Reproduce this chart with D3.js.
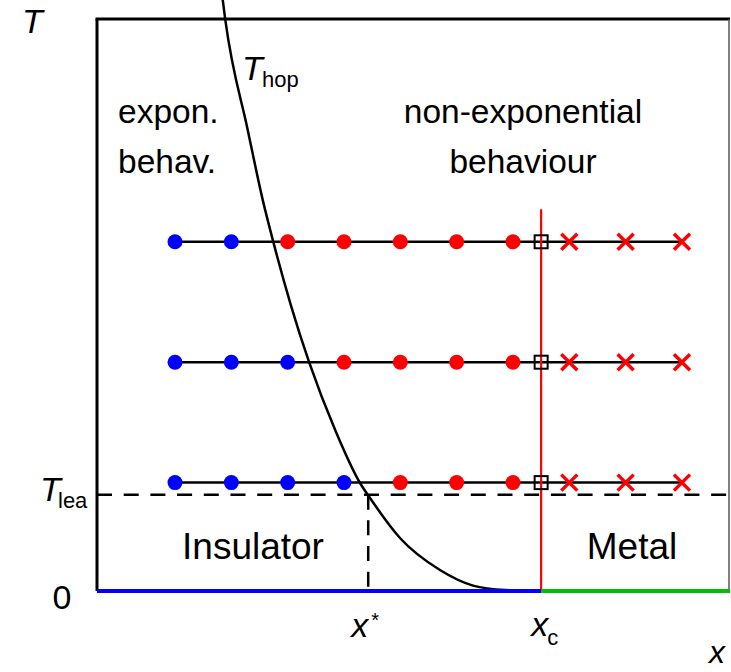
<!DOCTYPE html>
<html><head><meta charset="utf-8">
<script src="https://cdn.jsdelivr.net/npm/d3@7"></script>
<style>body{margin:0;background:#fff}svg{display:block}text{font-family:"Liberation Sans",Arial,sans-serif;fill:#000}</style>
</head><body>
<script>
// ---- data ----
const rowT = [2.9, 1.9, 0.9];
const dotX = [1, 2, 3, 4, 5, 6, 7];
const dotColors = [
  ["blue","blue","red","red","red","red","red"],
  ["blue","blue","blue","red","red","red","red"],
  ["blue","blue","blue","blue","red","red","red"]
];
const crossX = [8, 9, 10];
const xc = 7.5;
const xStar = 4.43;
const Tlea = 0.8;
const xcLineTop = 3.17;
const hopX = [1.847, 1.893, 2.291, 2.557, 2.745, 3.059, 3.379, 3.858, 4.284, 4.426, 4.994, 5.704, 6.29, 6.858, 7.5];
const hopT = [4.909, 4.743, 3.829, 3.248, 2.899, 2.37, 1.902, 1.32, 0.897, 0.797, 0.44, 0.174, 0.045, 0.008, 0];
const yTickLabels = ["0", "T", "lea"];

const W = 731, H = 672;
const svg = d3.select("body").append("svg").attr("width", W).attr("height", H);
const x = d3.scaleLinear().domain([-0.385, 10.853]).range([97, 730]);
const y = d3.scaleLinear().domain([0, 4.75]).range([591, 19]);
const [x0, x1] = x.range();
const colorMap = {blue: "#0000ff", red: "#ff0000"};

// dashed T_lea line
svg.append("line").attr("x1", x0).attr("x2", x1).attr("y1", y(Tlea)).attr("y2", y(Tlea))
  .attr("stroke", "#000").attr("stroke-width", 2.5).attr("stroke-dasharray", "15,11.7");
// dashed x* line
svg.append("line").attr("x1", x(xStar)).attr("x2", x(xStar)).attr("y1", y(Tlea)).attr("y2", y(0))
  .attr("stroke", "#000").attr("stroke-width", 2.5).attr("stroke-dasharray", "15,10.7");

// row lines
rowT.forEach(t => {
  svg.append("line").attr("x1", x(dotX[0])).attr("x2", x(crossX[crossX.length-1]))
    .attr("y1", y(t)).attr("y2", y(t)).attr("stroke", "#000").attr("stroke-width", 2.5);
});

// x_c red line
svg.append("line").attr("x1", x(xc)).attr("x2", x(xc)).attr("y1", y(xcLineTop)).attr("y2", y(0))
  .attr("stroke", "#ff0000").attr("stroke-width", 2.2);

// T_hop curve
const hop = hopX.map((v, i) => [v, hopT[i]]);
svg.append("path").datum(hop)
  .attr("d", d3.line().x(d => x(d[0])).y(d => y(d[1])).curve(d3.curveMonotoneX))
  .attr("fill", "none").attr("stroke", "#000").attr("stroke-width", 2.5);

// frame
svg.append("line").attr("x1", x0).attr("x2", x0).attr("y1", y.range()[1]).attr("y2", y(0))
  .attr("stroke", "#000").attr("stroke-width", 3);
svg.append("line").attr("x1", x0 - 1.5).attr("x2", x1).attr("y1", y.range()[1]).attr("y2", y.range()[1])
  .attr("stroke", "#000").attr("stroke-width", 3);
svg.append("line").attr("x1", x1 - 1).attr("x2", x1 - 1).attr("y1", y.range()[1]).attr("y2", y(0))
  .attr("stroke", "#555").attr("stroke-width", 1.5);
svg.append("line").attr("x1", x0).attr("x2", x(xc)).attr("y1", y(0)).attr("y2", y(0))
  .attr("stroke", "#0000ff").attr("stroke-width", 4);
svg.append("line").attr("x1", x(xc)).attr("x2", x1).attr("y1", y(0)).attr("y2", y(0))
  .attr("stroke", "#00c000").attr("stroke-width", 4);

// dots
rowT.forEach((t, r) => {
  svg.append("g").selectAll("circle").data(dotX).join("circle")
    .attr("cx", d => x(d)).attr("cy", y(t)).attr("r", 7.5)
    .attr("fill", (d, i) => colorMap[dotColors[r][i]]);
  svg.append("rect").attr("x", x(xc) - 6.5).attr("y", y(t) - 6.5).attr("width", 13).attr("height", 13)
    .attr("fill", "none").attr("stroke", "#000").attr("stroke-width", 2);
  const s = 8;
  svg.append("g").selectAll("path").data(crossX).join("path")
    .attr("d", d => `M${x(d)-s},${y(t)-s}L${x(d)+s},${y(t)+s}M${x(d)-s},${y(t)+s}L${x(d)+s},${y(t)-s}`)
    .attr("stroke", "#ff0000").attr("stroke-width", 3.5).attr("fill", "none");
});

// texts
function txt(xp, yp, str, size, opts = {}) {
  const t = svg.append("text").attr("x", xp).attr("y", yp).attr("font-size", size).text(str);
  if (opts.italic) t.attr("font-style", "italic");
  if (opts.anchor) t.attr("text-anchor", opts.anchor);
  return t;
}
txt(22, 33, "T", 34, {italic: true});
txt(242, 80, "T", 34, {italic: true});
txt(262, 87, "hop", 22);
txt(118, 123, "expon.", 33.5);
txt(118, 173, "behav.", 33.5);
txt(523, 123, "non-exponential", 33.5, {anchor: "middle"});
txt(523, 173, "behaviour", 33.5, {anchor: "middle"});
txt(253, 559, "Insulator", 37, {anchor: "middle"});
txt(632, 559, "Metal", 37, {anchor: "middle"});
txt(62, y(0) + 18, yTickLabels[0], 34, {anchor: "middle"});
txt(40, y(Tlea) + 6, yTickLabels[1], 34, {italic: true});
txt(58, y(Tlea) + 13, yTickLabels[2], 22);
txt(x(xStar) - 17, 637, "x", 34, {italic: true});
txt(x(xStar) + 3, 627, "*", 20);
txt(x(xc) - 10, 636, "x", 34, {italic: true});
txt(x(xc) + 6, 645, "c", 22);
txt(709, 663, "x", 32, {italic: true});
</script>
</body></html>
